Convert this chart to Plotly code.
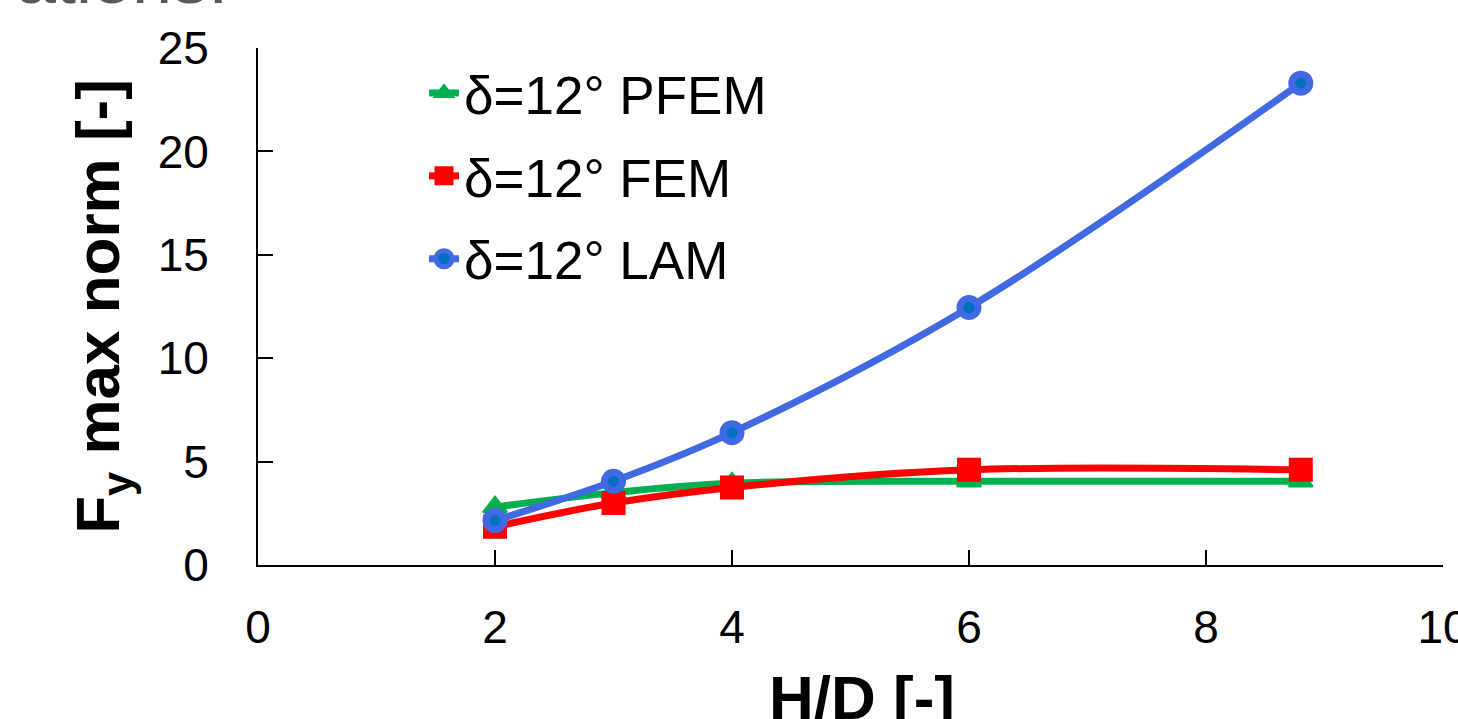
import plotly.graph_objects as go

hd = [2, 3, 4, 6, 8.8]
pfem = [2.8, 3.5, 3.95, 4.05, 4.05]
fem = [1.85, 3.0, 3.75, 4.6, 4.6]
lam = [2.15, 4.05, 6.4, 12.45, 23.3]

names = ["δ=12° PFEM", "δ=12° FEM", "δ=12° LAM"]
x_ticks = [0, 2, 4, 6, 8, 10]
y_ticks = [0, 5, 10, 15, 20, 25]

FONT = "Liberation Sans, Arial, sans-serif"

L, R, T, B = 258, 15, 48, 154
W, H = 1458, 719
pw = W - L - R
ph = H - T - B

fig = go.Figure()
fig.add_trace(go.Scatter(
    x=hd, y=pfem, name=names[0], mode="lines+markers", legendgroup="a",
    line=dict(color="#00B050", width=7, shape="spline"),
    marker=dict(symbol="triangle-up", size=21, color="#00B050",
                line=dict(color="#00B050", width=2)),
))
fig.add_trace(go.Scatter(
    x=hd, y=fem, name=names[1], mode="lines+markers", legendgroup="b",
    line=dict(color="#FF0000", width=7, shape="spline"),
    marker=dict(symbol="square", size=21, color="#FF0000",
                line=dict(color="#FF0000", width=3)),
))
fig.add_trace(go.Scatter(
    x=hd, y=lam, name=names[2], mode="lines+markers", legendgroup="c",
    line=dict(color="#4169E1", width=7, shape="spline"),
    marker=dict(symbol="circle", size=18, color="#0070C0",
                line=dict(color="#4169E1", width=7)),
))

fig.add_annotation(
    text="ations.", xref="paper", yref="paper",
    x=(230 - L) / pw, y=(H - B - 20) / ph,
    xanchor="right", yanchor="bottom", showarrow=False,
    font=dict(family=FONT, size=72, color="#595959"),
)

# x-axis title placed as an annotation so that it sits where the reference has it
fig.add_annotation(
    text="<b>H/D [-]</b>", xref="paper", yref="paper",
    x=(862 - L) / pw, y=-(661 - (H - B)) / ph,
    xanchor="center", yanchor="top", showarrow=False,
    font=dict(family=FONT, size=62, color="black"),
)

fig.update_layout(
    width=W, height=H,
    margin=dict(l=L, r=R, t=T, b=B, pad=0),
    paper_bgcolor="white", plot_bgcolor="white",
    font=dict(family=FONT, color="black"),
    showlegend=True,
    legend=dict(
        x=(424 - L) / pw, y=1.0 - 4 / ph, xanchor="left", yanchor="top",
        bgcolor="rgba(0,0,0,0)", font=dict(family=FONT, size=53, color="black"),
        itemwidth=30, tracegroupgap=11,
    ),
    xaxis=dict(
        range=[0, 10], tickvals=x_ticks, ticktext=[str(v) for v in x_ticks],
        showgrid=False, zeroline=False, showline=True, linecolor="black", linewidth=2,
        ticks="inside", ticklen=15, tickwidth=2, tickcolor="black",
        tickfont=dict(family=FONT, size=46, color="black"),
        ticklabelstandoff=21, ticklabeloverflow="allow", automargin=False,
    ),
    yaxis=dict(
        range=[0, 25], tickvals=y_ticks, ticktext=[str(v) for v in y_ticks],
        showgrid=False, zeroline=False, showline=True, linecolor="black", linewidth=2,
        ticks="inside", ticklen=15, tickwidth=2, tickcolor="black",
        tickfont=dict(family=FONT, size=46, color="black"),
        ticklabelstandoff=38, ticklabeloverflow="allow", automargin=False,
        title=dict(text="<b>F<sub>y</sub> max norm [-]</b>",
                   font=dict(family=FONT, size=62, color="black"), standoff=18),
    ),
)

fig.write_html("out.html")
